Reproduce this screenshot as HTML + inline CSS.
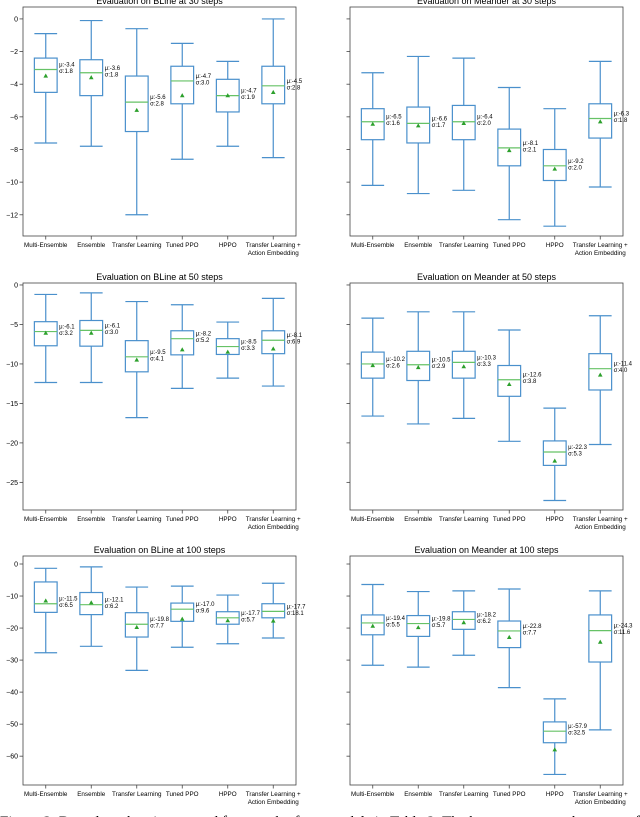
<!DOCTYPE html>
<html><head><meta charset="utf-8"><style>
html,body{margin:0;padding:0;background:#fff;width:640px;height:817px;overflow:hidden}
svg{display:block;font-family:"Liberation Sans","DejaVu Sans",sans-serif}
</style></head><body>
<svg id="fig" width="640" height="817" viewBox="0 0 640 817" xmlns="http://www.w3.org/2000/svg"></svg>
<script>
const panelTitles = ["Evaluation on BLine at 30 steps","Evaluation on Meander at 30 steps","Evaluation on BLine at 50 steps","Evaluation on Meander at 50 steps","Evaluation on BLine at 100 steps","Evaluation on Meander at 100 steps"];
const categories = [["Multi-Ensemble"],["Ensemble"],["Transfer Learning"],["Tuned PPO"],["HPPO"],["Transfer Learning +","Action Embedding"]];
const whiskHi = [[-0.9,-0.1,-0.6,-1.5,-2.6,0.0],[-3.3,-2.3,-2.4,-4.2,-5.5,-2.6],[-1.2,-1.0,-2.1,-2.5,-4.7,-1.7],[-4.2,-3.4,-3.4,-5.7,-15.6,-3.9],[-1.35,-0.9,-7.2,-6.9,-9.7,-6.0],[-6.4,-8.6,-8.4,-7.8,-42.1,-8.4]];
const q3s = [[-2.4,-2.5,-3.5,-2.9,-3.7,-2.9],[-5.5,-5.4,-5.3,-6.75,-8.0,-5.2],[-4.65,-4.5,-7.05,-5.8,-6.8,-5.8],[-8.5,-8.4,-8.4,-10.2,-19.75,-8.7],[-5.6,-8.9,-15.2,-12.2,-14.9,-12.4],[-15.9,-16.1,-14.9,-17.8,-49.3,-15.9]];
const medians = [[-3.1,-3.3,-5.1,-3.8,-4.7,-4.1],[-6.3,-6.4,-6.3,-7.9,-9.0,-6.1],[-5.9,-5.75,-9.1,-6.8,-7.8,-7.0],[-10.0,-10.1,-9.8,-12.0,-21.15,-10.6],[-12.4,-12.7,-18.8,-14.1,-16.8,-14.8],[-18.4,-18.6,-17.3,-20.9,-52.2,-20.8]];
const q1s = [[-4.5,-4.7,-6.9,-5.2,-5.7,-5.2],[-7.4,-7.6,-7.4,-9.0,-9.9,-7.3],[-7.7,-7.75,-11.0,-8.85,-8.8,-8.7],[-11.8,-12.1,-11.8,-14.1,-22.85,-13.3],[-15.1,-15.8,-22.8,-17.9,-18.8,-16.8],[-22.1,-22.6,-20.4,-26.1,-55.8,-30.6]];
const whiskLo = [[-7.6,-7.8,-12.0,-8.6,-7.8,-8.5],[-10.2,-10.7,-10.5,-12.3,-12.7,-10.3],[-12.35,-12.35,-16.8,-13.1,-11.8,-12.8],[-16.6,-17.6,-16.9,-19.8,-27.3,-20.2],[-27.7,-25.7,-33.2,-26.0,-24.9,-23.1],[-31.6,-32.2,-28.5,-38.6,-65.7,-51.8]];
const means = [[-3.5,-3.6,-5.6,-4.7,-4.7,-4.5],[-6.45,-6.55,-6.4,-8.06,-9.2,-6.3],[-6.1,-6.1,-9.5,-8.2,-8.5,-8.1],[-10.2,-10.45,-10.35,-12.6,-22.3,-11.4],[-11.5,-12.1,-19.8,-17.2,-17.7,-17.8],[-19.4,-19.85,-18.3,-22.9,-58.0,-24.4]];
const muLabels = [["-3.4","-3.6","-5.6","-4.7","-4.7","-4.5"],["-6.5","-6.6","-6.4","-8.1","-9.2","-6.3"],["-6.1","-6.1","-9.5","-8.2","-8.5","-8.1"],["-10.2","-10.5","-10.3","-12.6","-22.3","-11.4"],["-11.5","-12.1","-19.8","-17.0","-17.7","-17.7"],["-19.4","-19.8","-18.2","-22.8","-57.9","-24.3"]];
const sigmaLabels = [["1.8","1.8","2.8","3.0","1.9","2.8"],["1.6","1.7","2.0","2.1","2.0","1.8"],["3.2","3.0","4.1","5.2","3.3","6.9"],["2.6","2.9","3.3","3.8","5.3","4.0"],["6.5","6.2","7.7","9.6","5.7","18.1"],["5.5","5.7","6.2","7.7","32.5","11.6"]];
const yTicksByRow = [[0,-2,-4,-6,-8,-10,-12],[0,-5,-10,-15,-20,-25],[0,-10,-20,-30,-40,-50,-60]];
const yLimsByRow = [[0.73,-13.3],[0.25,-28.5],[2.5,-69]];

const NS="http://www.w3.org/2000/svg";
const svg=document.getElementById('fig');
function mk(tag,attrs,parent){const e=document.createElementNS(NS,tag);for(const k in attrs)e.setAttribute(k,attrs[k]);(parent||svg).appendChild(e);return e;}
const rowsGeom=[{top:7,bottom:236},{top:283,bottom:510},{top:556,bottom:785}];
const colsGeom=[{x0:23,x1:296},{x0:350,x1:623}];
const BOX="#4a90cc", MED="#66c266", MEAN="#2ca02c";

for(let p=0;p<6;p++){
  const r=Math.floor(p/2), c=p%2;
  const g=rowsGeom[r], cg=colsGeom[c];
  const [ymax,ymin]=yLimsByRow[r];
  const ys=v=>g.top+(ymax-v)/(ymax-ymin)*(g.bottom-g.top);
  const xs=i=>cg.x0+(i+0.5)/6*(cg.x1-cg.x0);
  const bw=(cg.x1-cg.x0)/6*0.5;
  const grp=mk('g',{});
  
  
  const t=mk('text',{x:(cg.x0+cg.x1)/2,y:g.top-3,'text-anchor':'middle','font-size':'9'},grp);
  t.textContent=panelTitles[p];
  
  
  const frame=mk('rect',{x:cg.x0,y:g.top,width:cg.x1-cg.x0,height:g.bottom-g.top,fill:'none',stroke:'#444','stroke-width':'0.8'},grp);
  
  
  yTicksByRow[r].forEach(v=>{
    const y=ys(v);
    mk('line',{x1:cg.x0-3.5,x2:cg.x0,y1:y,y2:y,stroke:'#444','stroke-width':'0.8'},grp);
    if(c===0){const tl=mk('text',{x:cg.x0-5,y:y+2.5,'text-anchor':'end','font-size':'7'},grp);
      tl.textContent=(v<0?'\u2212'+(-v):''+v);
      
      }
  });
  for(let i=0;i<6;i++){
    const x=xs(i);
    mk('line',{x1:x,x2:x,y1:g.bottom,y2:g.bottom+3.5,stroke:'#444','stroke-width':'0.8'},grp);
    categories[i].forEach((ln,k)=>{const tl=mk('text',{x:x,y:g.bottom+11+k*8,'text-anchor':'middle','font-size':'6.3'},grp);tl.textContent=ln;
      
      });
    const b=mk('g',{},grp);
    
    
    const hi=ys(whiskHi[p][i]),lo=ys(whiskLo[p][i]),a=ys(q3s[p][i]),q=ys(q1s[p][i]),m=ys(medians[p][i]),mn=ys(means[p][i]);
    mk('line',{x1:x,x2:x,y1:hi,y2:a,stroke:BOX,'stroke-width':'1.2'},b);
    mk('line',{x1:x,x2:x,y1:q,y2:lo,stroke:BOX,'stroke-width':'1.2'},b);
    mk('line',{x1:x-bw/2,x2:x+bw/2,y1:hi,y2:hi,stroke:BOX,'stroke-width':'1.2'},b);
    mk('line',{x1:x-bw/2,x2:x+bw/2,y1:lo,y2:lo,stroke:BOX,'stroke-width':'1.2'},b);
    mk('rect',{x:x-bw/2,y:a,width:bw,height:q-a,fill:'none',stroke:BOX,'stroke-width':'1.2'},b);
    mk('line',{x1:x-bw/2,x2:x+bw/2,y1:m,y2:m,stroke:MED,'stroke-width':'1.2'},b);
    mk('polygon',{points:`${x},${mn-2.5} ${x-2.3},${mn+1.6} ${x+2.3},${mn+1.6}`,fill:MEAN},b);
    const l1=mk('text',{x:x+bw/2+2,y:m-3,'font-size':'6'},b);l1.textContent='\u03bc:'+muLabels[p][i];
    const l2=mk('text',{x:x+bw/2+2,y:m+3.5,'font-size':'6'},b);l2.textContent='\u03c3:'+sigmaLabels[p][i];
  }
}
const cap=mk('text',{x:0,y:826,'font-size':'15','font-family':'"Liberation Serif",serif',textLength:'640',lengthAdjust:'spacingAndGlyphs'});
cap.textContent='Figure 3: Box plots showing reward from each of our models in Table 2. The boxes represent the range of';


</script>
</body></html>
